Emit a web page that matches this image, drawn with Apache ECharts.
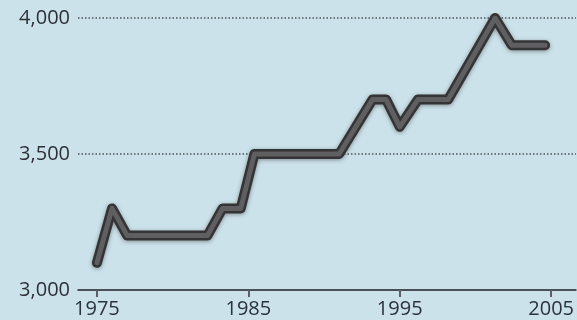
<!DOCTYPE html>
<html>
<head>
<meta charset="utf-8">
<script src="https://cdn.jsdelivr.net/npm/echarts@6/dist/echarts.min.js"></script>
<style>
  html, body { margin: 0; padding: 0; background: #cce2ea; }
  #chart { width: 577px; height: 320px; }
</style>
</head>
<body>
<div id="chart"></div>
<script>
// Years (turning points of the line) and the matching values
const years  = [1975, 1976, 1977, 1982.3, 1983.3, 1984.5, 1985.4, 1991, 1993.2, 1994.1, 1995, 1996.2, 1998.2, 2001.3, 2002.4, 2004.6];
const values = [3100, 3300, 3200, 3200,   3300,   3300,   3500,   3500, 3700,   3700,   3600, 3700,   3700,   4000,   3900,   3900];
const xTicks = [1975, 1985, 1995, 2005];
const yTicks = [3000, 3500, 4000];

const points = years.map((y, i) => [y, values[i]]);

const chart = echarts.init(document.getElementById('chart'), null, { renderer: 'canvas' });
const fontFamily = '"Open Sans", "DejaVu Sans", sans-serif';

chart.setOption({
  backgroundColor: '#cce2ea',
  animation: false,
  grid: { left: 78, right: 0, top: 18, bottom: 30, containLabel: false },
  xAxis: {
    type: 'value',
    min: 1973.75,
    max: 2006.64,
    axisLine: { show: true, lineStyle: { color: '#1e2226', width: 1.5 } },
    axisTick: { show: true, customValues: xTicks, length: 7, lineStyle: { color: '#5a6066', width: 2 } },
    axisLabel: {
      customValues: xTicks,
      formatter: v => String(v),
      color: '#2a323c', fontSize: 20, fontFamily: fontFamily, margin: 9
    },
    splitLine: { show: false }
  },
  yAxis: {
    type: 'value',
    min: 3000,
    max: 4000,
    interval: 500,
    axisLine: { show: false },
    axisTick: { show: false },
    axisLabel: {
      formatter: v => yTicks.includes(v) ? v.toLocaleString('en-US') : '',
      color: '#2c3036', fontSize: 20, fontFamily: fontFamily, margin: 8
    },
    splitLine: {
      show: true,
      showMinLine: false,
      lineStyle: { color: '#4d5358', width: 1.5, type: [1.5, 2] }
    }
  },
  series: [
    {
      type: 'line',
      data: points,
      showSymbol: false,
      silent: true,
      lineStyle: {
        color: '#343335', width: 10, cap: 'round', join: 'round',
        shadowColor: 'rgba(40,40,40,0.45)', shadowBlur: 4, shadowOffsetY: 1
      },
      z: 2
    },
    {
      type: 'line',
      data: points,
      showSymbol: false,
      silent: true,
      lineStyle: { color: '#5f5e60', width: 5, cap: 'round', join: 'round' },
      z: 3
    }
  ]
});
</script>
</body>
</html>
